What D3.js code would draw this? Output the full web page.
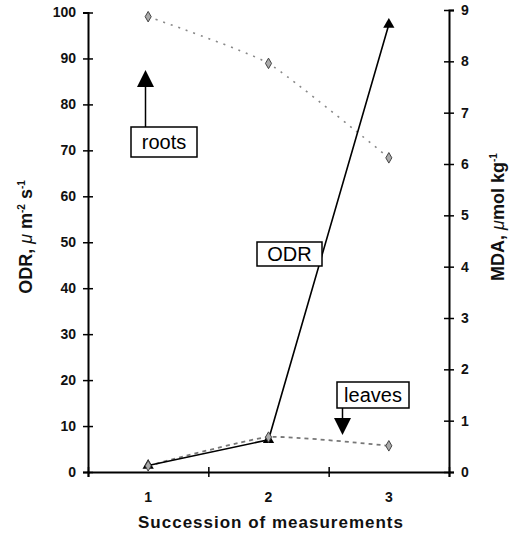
<!DOCTYPE html>
<html><head><meta charset="utf-8">
<script src="https://cdn.jsdelivr.net/npm/d3@7"></script>
<style>body{margin:0;background:#fff;} svg{display:block;font-family:"Liberation Sans",Arial,sans-serif;}</style>
</head><body>
<svg id="c" width="515" height="535"></svg>
<script>
const categories = ["1","2","3"];
const odrValues = [1.4, 7.0, 97.4];
const mdaRoots = [8.87, 7.96, 6.12];
const mdaLeaves = [0.12, 0.68, 0.51];
const leftTicks = [0,10,20,30,40,50,60,70,80,90,100];
const rightTicks = [0,1,2,3,4,5,6,7,8,9];

const svg = d3.select("#c");
const L = 88, R = 449, B = 472, TL = 12.5, TR = 10;

const x = d3.scaleBand().domain(categories).range([L, R]).paddingInner(0).paddingOuter(0);
const xc = d => x(d) + x.bandwidth()/2;
const xEdge = d3.scaleLinear().domain([0, categories.length]).range([L, R]);
const yL = d3.scaleLinear().domain([0,100]).range([B, TL]);
const yR = d3.scaleLinear().domain([0,9]).range([B, TR]);

// Left axis
const gL = svg.append("g").attr("transform", `translate(${L},0)`)
  .call(d3.axisLeft(yL).tickValues(leftTicks).tickSize(5).tickPadding(7));
gL.selectAll(".tick line").attr("x2", 5).attr("x1", -5);
// Right axis
const gR = svg.append("g").attr("transform", `translate(${R},0)`)
  .call(d3.axisRight(yR).tickValues(rightTicks).tickSize(5).tickPadding(7));
gR.selectAll(".tick line").attr("x1", -5).attr("x2", 5);
// Bottom axis: boundary ticks
const gB = svg.append("g").attr("transform", `translate(0,${B})`)
  .call(d3.axisBottom(xEdge).tickValues(d3.range(categories.length+1)).tickSize(5).tickFormat(""));
gB.selectAll(".tick line").attr("y1", -5).attr("y2", 5);
// Bottom labels
const gB2 = svg.append("g").attr("transform", `translate(0,${B})`)
  .call(d3.axisBottom(x).tickSize(0).tickPadding(20));
gB2.select(".domain").remove();

[gL, gR, gB].forEach(g => {
  g.select(".domain").attr("stroke", "#000").attr("stroke-width", 2);
  g.selectAll(".tick line").attr("stroke", "#000").attr("stroke-width", 1.5);
});
[gL, gR, gB2].forEach(g => g.selectAll("text").attr("fill", "#111")
  .style("font-size", "14px").style("font-weight", "bold")
  .style("font-family", "'Liberation Sans', Arial, sans-serif"));

// Lines
const smooth = d3.line().curve(d3.curveCardinal.tension(0.5));
const straight = d3.line();

const rootsPts = categories.map((c,i) => [xc(c), yR(mdaRoots[i])]);
const leavesPts = categories.map((c,i) => [xc(c), yR(mdaLeaves[i])]);
const odrPts = categories.map((c,i) => [xc(c), yL(odrValues[i])]);

svg.append("path").attr("d", smooth(rootsPts)).attr("fill","none")
  .attr("stroke","#888").attr("stroke-width",1.6).attr("stroke-dasharray","2,6");
svg.append("path").attr("d", smooth(leavesPts)).attr("fill","none")
  .attr("stroke","#777").attr("stroke-width",1.8).attr("stroke-dasharray","4,4");
svg.append("path").attr("d", straight(odrPts)).attr("fill","none")
  .attr("stroke","#000").attr("stroke-width",1.6);

// Markers
const diamond = d3.symbol().type(d3.symbolDiamond).size(32);
const tri = d3.symbol().type(d3.symbolTriangle).size(55);
svg.selectAll(".odrm").data(odrPts).join("path").attr("class","odrm")
  .attr("transform", d => `translate(${d[0]},${d[1]})`).attr("d", tri()).attr("fill","#000");
svg.selectAll(".rm").data(rootsPts.concat(leavesPts)).join("path").attr("class","rm")
  .attr("transform", d => `translate(${d[0]},${d[1]})`).attr("d", diamond())
  .attr("fill","#aaa").attr("stroke","#444").attr("stroke-width",1);

// Annotations
function box(x0, y0, w, h, label) {
  svg.append("rect").attr("x", x0).attr("y", y0).attr("width", w).attr("height", h)
    .attr("fill","#fff").attr("stroke","#000").attr("stroke-width",1.5);
  svg.append("text").attr("x", x0 + w/2).attr("y", y0 + h/2 + 7).attr("text-anchor","middle")
    .style("font-size","20px").attr("fill","#000").text(label);
}
// roots arrow (up)
svg.append("line").attr("x1",145.5).attr("x2",145.5).attr("y1",127).attr("y2",86).attr("stroke","#000").attr("stroke-width",1.5);
svg.append("path").attr("d","M137,87 L154,87 L145.5,70 Z").attr("fill","#000");
box(131, 127, 66, 30, "roots");
// ODR label
box(257, 242, 65, 24, "ODR");
// leaves arrow (down)
svg.append("line").attr("x1",342.5).attr("x2",342.5).attr("y1",408).attr("y2",419).attr("stroke","#000").attr("stroke-width",1.5);
svg.append("path").attr("d","M334,418 L351,418 L342.5,435 Z").attr("fill","#000");
box(337, 382, 72, 26, "leaves");

// Axis titles
const lt = svg.append("text").attr("transform","translate(32,237) rotate(-90)").attr("text-anchor","middle")
  .style("font-size","18px").style("font-weight","bold").attr("fill","#111");
lt.append("tspan").text("ODR, ");
lt.append("tspan").style("font-style","italic").style("font-weight","normal").text("μ");
lt.append("tspan").text(" m");
lt.append("tspan").attr("dy",-7).style("font-size","10px").text("-2");
lt.append("tspan").attr("dy",7).text(" s");
lt.append("tspan").attr("dy",-7).style("font-size","10px").text("-1");

const rt = svg.append("text").attr("transform","translate(504,217) rotate(-90)").attr("text-anchor","middle")
  .style("font-size","18px").style("font-weight","bold").attr("fill","#111");
rt.append("tspan").text("MDA, ");
rt.append("tspan").style("font-style","italic").style("font-weight","normal").text("μ");
rt.append("tspan").text("mol kg");
rt.append("tspan").attr("dy",-7).style("font-size","10px").text("-1");

svg.append("text").attr("x", 271).attr("y", 528).attr("text-anchor","middle")
  .style("font-size","17px").style("font-weight","bold").style("letter-spacing","1px").attr("fill","#111")
  .text("Succession of measurements");
</script>
</body></html>
